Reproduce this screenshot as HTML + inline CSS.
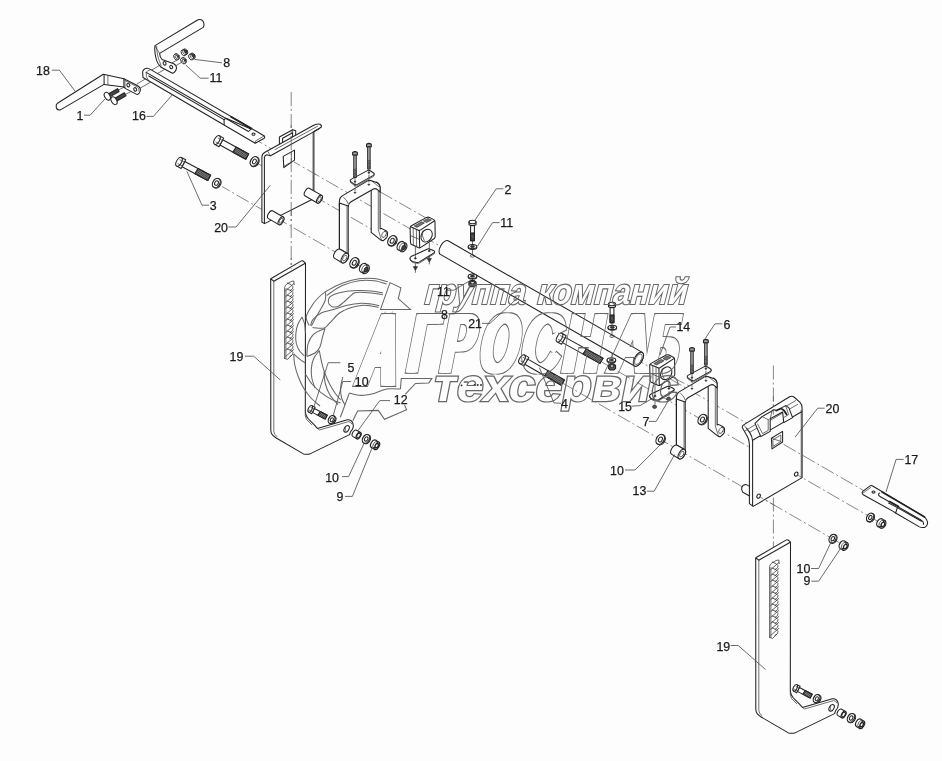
<!DOCTYPE html>
<html lang="ru"><head><meta charset="utf-8"><title>Схема</title>
<style>
html,body{margin:0;padding:0;background:#fdfdfd;}
svg{display:block;filter:grayscale(1)}
.p{fill:#fdfdfd;stroke:#222;stroke-width:1.05;stroke-linejoin:round;stroke-linecap:round}
.l{fill:none;stroke:#222;stroke-width:1.05;stroke-linejoin:round;stroke-linecap:round}
.t{fill:none;stroke:#333;stroke-width:0.7;stroke-linecap:round}
.d{fill:#333;stroke:#222;stroke-width:0.6}
.c{fill:none;stroke:#606060;stroke-width:0.75;stroke-dasharray:14 3 2 3}
.ld{fill:none;stroke:#505050;stroke-width:0.85}
.n{font-family:"Liberation Sans",Arial,sans-serif;font-size:12.4px;fill:#1a1a1a;stroke:#1a1a1a;stroke-width:0.25}
.wk{fill:#000;stroke:#000;stroke-linejoin:miter;font-family:"Liberation Sans",Arial,sans-serif}
.w{fill:none;stroke:#666;stroke-width:1;stroke-linejoin:miter;font-family:"Liberation Sans",Arial,sans-serif}
.wl{fill:none;stroke:#666;stroke-width:1.05}
</style></head><body>
<svg width="942" height="761" viewBox="0 0 942 761">
<g id="axes">
<line class="c" x1="291.2" y1="92.0" x2="291.2" y2="269.0" stroke-dashoffset="0.0"/>
<line class="c" x1="773.4" y1="365.5" x2="773.4" y2="549.0" stroke-dashoffset="0.0"/>
<line class="c" x1="222.0" y1="186.5" x2="368.0" y2="270.8" stroke-dashoffset="49.1"/>
<line class="c" x1="563.0" y1="383.3" x2="848.0" y2="547.7" stroke-dashoffset="442.8"/>
<line class="c" x1="258.0" y1="163.7" x2="405.0" y2="248.5" stroke-dashoffset="46.8"/>
<line class="c" x1="602.0" y1="362.2" x2="886.0" y2="526.0" stroke-dashoffset="443.9"/>
<line class="c" x1="258.0" y1="141.1" x2="444.0" y2="248.4" stroke-dashoffset="9.2"/>
<line class="c" x1="640.0" y1="361.5" x2="866.0" y2="491.9" stroke-dashoffset="450.3"/>
<line class="c" x1="380.0" y1="191.8" x2="428.6" y2="219.4" />
<line class="c" x1="672.0" y1="377.0" x2="691.0" y2="386.8" />
</g>
<g id="tl">
<line class="t" x1="118.3" y1="90.1" x2="128.3" y2="85.1" />
<line class="t" x1="125.2" y1="94.5" x2="135.2" y2="89.4" />
<line class="t" x1="137.0" y1="84.0" x2="146.0" y2="78.5" />
<line class="t" x1="139.5" y1="88.5" x2="150.0" y2="82.5" />
<line class="t" x1="172.0" y1="63.0" x2="177.0" y2="60.0" />
<line class="t" x1="174.5" y1="66.5" x2="183.0" y2="61.5" />
<line class="t" x1="150.0" y1="71.0" x2="162.0" y2="64.0" />
<line class="t" x1="153.0" y1="76.0" x2="169.0" y2="67.0" />
<path class="p" d="M57.5,103.2 L103.3,74.2 L123.9,78.8 L137.7,85.7 Q141.2,88 140.2,91 Q139.5,94 137.2,94.6 L125.2,88.4 L123.9,86.9 L104.1,84.4 L60.4,109.9 Q56.8,110.5 56.2,107.2 Q55.8,104.5 57.5,103.2 Z" />
<line class="l" x1="104.1" y1="75.6" x2="104.1" y2="84.4" />
<line class="t" x1="107.9" y1="76.0" x2="107.9" y2="84.6" />
<line class="l" x1="123.9" y1="78.8" x2="123.9" y2="86.9" />
<path class="t" d="M125,80.5 L125,87.6 M125,80.5 L137.2,86.8 Q139.6,88.6 139,91" />
<ellipse class="p" cx="128.3" cy="85.1" rx="1.4" ry="1.8" transform="rotate(-25 128.3 85.1)" />
<ellipse class="p" cx="135.2" cy="89.4" rx="1.4" ry="1.8" transform="rotate(-25 135.2 89.4)" />
<path class="p" d="M109.4,97.1 L119.1,91.6 L117.5,88.6 L107.8,94.1 Z" style="fill:#444"/>
<ellipse class="p" cx="107.3" cy="96.3" rx="2.6" ry="4.2" transform="rotate(-29.55368363230744 107.3 96.3)" />
<path class="p" d="M116.1,101.5 L126.0,95.8 L124.4,92.8 L114.5,98.5 Z" style="fill:#444"/>
<ellipse class="p" cx="114.0" cy="100.7" rx="2.6" ry="4.2" transform="rotate(-29.931511840507792 114.0 100.7)" />
<path class="p" d="M154.7,48.4 Q154.5,45.8 156.6,44.6 L198,19.8 Q201.5,18.6 203.2,21.5 Q204.8,25 203.2,27.4 L159.6,53.4 Q159.8,57.5 162,59.4 L173.8,63.8 Q177,65.5 176.4,68.6 Q175.5,72.5 172.4,73.2 L160.7,67 L158.2,63.8 Q155,58 154.7,48.4 Z" />
<path class="t" d="M156.6,46.5 Q157,56 159.6,61.5 L161.2,66" />
<line class="t" x1="154.8" y1="45.7" x2="159.6" y2="53.4" />
<ellipse class="p" cx="164.6" cy="63.3" rx="1.4" ry="1.8" transform="rotate(-25 164.6 63.3)" />
<ellipse class="p" cx="171.2" cy="67.0" rx="1.4" ry="1.8" transform="rotate(-25 171.2 67.0)" />
<ellipse class="p" cx="176.9" cy="56.6" rx="2.3" ry="3.3" transform="rotate(-30 176.9 56.6)" style="stroke-width:0.79"/>
<ellipse class="p" cx="176.3" cy="57.0" rx="2.3" ry="3.3" transform="rotate(-30 176.3 57.0)" style="stroke-width:0.86"/>
<ellipse class="p" cx="176.5" cy="56.9" rx="1.1" ry="1.6" transform="rotate(-30 176.5 56.9)" style="stroke-width:0.72"/>
<ellipse class="p" cx="183.9" cy="60.4" rx="2.3" ry="3.3" transform="rotate(-30 183.9 60.4)" style="stroke-width:0.79"/>
<ellipse class="p" cx="183.3" cy="60.8" rx="2.3" ry="3.3" transform="rotate(-30 183.3 60.8)" style="stroke-width:0.86"/>
<ellipse class="p" cx="183.5" cy="60.7" rx="1.1" ry="1.6" transform="rotate(-30 183.5 60.7)" style="stroke-width:0.72"/>
<ellipse class="p" cx="185.3" cy="51.8" rx="2.2" ry="3.2" transform="rotate(-30 185.3 51.8)" style="stroke-width:0.86"/>
<ellipse class="p" cx="183.6" cy="52.8" rx="2.2" ry="3.2" transform="rotate(-30 183.6 52.8)" style="stroke-width:0.86"/>
<ellipse class="t" cx="184.8" cy="52.0" rx="1.9" ry="2.8" transform="rotate(-30 184.8 52.0)" />
<ellipse class="p" cx="185.6" cy="51.6" rx="1.1" ry="1.6" transform="rotate(-30 185.6 51.6)" style="fill:#444;stroke-width:0.65"/>
<ellipse class="p" cx="192.8" cy="56.0" rx="2.2" ry="3.2" transform="rotate(-30 192.8 56.0)" style="stroke-width:0.86"/>
<ellipse class="p" cx="191.1" cy="57.0" rx="2.2" ry="3.2" transform="rotate(-30 191.1 57.0)" style="stroke-width:0.86"/>
<ellipse class="t" cx="192.3" cy="56.2" rx="1.9" ry="2.8" transform="rotate(-30 192.3 56.2)" />
<ellipse class="p" cx="193.1" cy="55.8" rx="1.1" ry="1.6" transform="rotate(-30 193.1 55.8)" style="fill:#444;stroke-width:0.65"/>
<path class="p" d="M146.6,68.2 Q143,69 142.6,72 L143,77.5 L148.6,80.8 L255.2,143.3 L264.3,138.2 Q265.3,136.5 263.9,135.7 L150.8,69.6 Q148.5,68 146.6,68.2 Z" />
<path class="l" d="M146.2,72.4 L248,131.2" />
<path class="l" d="M148.8,76 L224,119.6" />
<path class="t" d="M150.8,69.6 Q147,70.5 146.2,72.4 L146.4,76.5 L148.6,80.8" />
<path class="l" d="M224,119.6 L224.2,124.6 M224,119.6 L226,118.3 L251,129 L248.5,131.5" />
<path class="l" d="M231,116.8 L251.5,128.6" style="stroke-width:1.8"/>
<path class="t" d="M255.2,143.3 L255.4,141 L263.8,136.2" />
<ellipse class="p" cx="253.5" cy="134.2" rx="1.5" ry="1.1" transform="rotate(0 253.5 134.2)" />
</g>
<g id="b3">
<path class="p" d="M219.9,145.0 L245.8,159.2 L248.6,154.0 L222.8,139.8 Z" />
<path class="p" d="M233.1,152.3 L245.8,159.2 L248.6,154.0 L236.0,147.0 Z" style="fill:#9a9a9a"/>
<line class="t" x1="232.5" y1="152.0" x2="236.5" y2="147.3" style="stroke:#222;stroke-width:0.75"/>
<line class="t" x1="233.6" y1="152.6" x2="237.6" y2="147.9" style="stroke:#222;stroke-width:0.75"/>
<line class="t" x1="234.7" y1="153.2" x2="238.7" y2="148.5" style="stroke:#222;stroke-width:0.75"/>
<line class="t" x1="235.8" y1="153.8" x2="239.8" y2="149.1" style="stroke:#222;stroke-width:0.75"/>
<line class="t" x1="236.9" y1="154.4" x2="240.9" y2="149.7" style="stroke:#222;stroke-width:0.75"/>
<line class="t" x1="238.0" y1="155.0" x2="242.0" y2="150.3" style="stroke:#222;stroke-width:0.75"/>
<line class="t" x1="239.1" y1="155.6" x2="243.1" y2="150.9" style="stroke:#222;stroke-width:0.75"/>
<line class="t" x1="240.2" y1="156.2" x2="244.2" y2="151.5" style="stroke:#222;stroke-width:0.75"/>
<line class="t" x1="241.3" y1="156.8" x2="245.3" y2="152.1" style="stroke:#222;stroke-width:0.75"/>
<line class="t" x1="242.4" y1="157.4" x2="246.3" y2="152.7" style="stroke:#222;stroke-width:0.75"/>
<line class="t" x1="243.5" y1="158.0" x2="247.4" y2="153.3" style="stroke:#222;stroke-width:0.75"/>
<line class="t" x1="244.6" y1="158.6" x2="248.5" y2="153.9" style="stroke:#222;stroke-width:0.75"/>
<path class="p" d="M214.6,144.3 L219.0,146.7 L223.7,138.1 L219.4,135.7 Z" />
<ellipse class="p" cx="217.0" cy="140.0" rx="2.5" ry="4.9" transform="rotate(28.796225785109243 217.0 140.0)" />
<line class="t" x1="215.9" y1="141.9" x2="220.3" y2="144.3" />
<line class="t" x1="218.1" y1="138.1" x2="222.4" y2="140.5" />
<ellipse class="p" cx="255.1" cy="161.9" rx="3.6" ry="5.2" transform="rotate(30 255.1 161.9)" style="stroke-width:1.10"/>
<ellipse class="p" cx="254.2" cy="161.4" rx="3.6" ry="5.2" transform="rotate(30 254.2 161.4)" style="stroke-width:1.20"/>
<ellipse class="p" cx="254.4" cy="161.5" rx="1.7" ry="2.5" transform="rotate(30 254.4 161.5)" style="stroke-width:1.00"/>
<path class="p" d="M182.0,166.8 L207.8,180.5 L210.6,175.3 L184.8,161.5 Z" />
<path class="p" d="M195.1,173.8 L207.8,180.5 L210.6,175.3 L197.9,168.5 Z" style="fill:#9a9a9a"/>
<line class="t" x1="194.6" y1="173.5" x2="198.5" y2="168.8" style="stroke:#222;stroke-width:0.75"/>
<line class="t" x1="195.7" y1="174.1" x2="199.6" y2="169.4" style="stroke:#222;stroke-width:0.75"/>
<line class="t" x1="196.8" y1="174.7" x2="200.7" y2="169.9" style="stroke:#222;stroke-width:0.75"/>
<line class="t" x1="197.9" y1="175.3" x2="201.8" y2="170.5" style="stroke:#222;stroke-width:0.75"/>
<line class="t" x1="199.0" y1="175.9" x2="202.9" y2="171.1" style="stroke:#222;stroke-width:0.75"/>
<line class="t" x1="200.1" y1="176.4" x2="204.0" y2="171.7" style="stroke:#222;stroke-width:0.75"/>
<line class="t" x1="201.2" y1="177.0" x2="205.1" y2="172.3" style="stroke:#222;stroke-width:0.75"/>
<line class="t" x1="202.3" y1="177.6" x2="206.2" y2="172.9" style="stroke:#222;stroke-width:0.75"/>
<line class="t" x1="203.4" y1="178.2" x2="207.3" y2="173.5" style="stroke:#222;stroke-width:0.75"/>
<line class="t" x1="204.5" y1="178.8" x2="208.4" y2="174.1" style="stroke:#222;stroke-width:0.75"/>
<line class="t" x1="205.6" y1="179.4" x2="209.5" y2="174.7" style="stroke:#222;stroke-width:0.75"/>
<line class="t" x1="206.7" y1="180.0" x2="210.6" y2="175.2" style="stroke:#222;stroke-width:0.75"/>
<path class="p" d="M176.7,166.1 L181.1,168.5 L185.7,159.8 L181.3,157.5 Z" />
<ellipse class="p" cx="179.0" cy="161.8" rx="2.5" ry="4.9" transform="rotate(28.06263891609551 179.0 161.8)" />
<line class="t" x1="178.0" y1="163.7" x2="182.4" y2="166.1" />
<line class="t" x1="180.0" y1="159.9" x2="184.4" y2="162.2" />
<ellipse class="p" cx="217.2" cy="183.5" rx="3.5" ry="5.0" transform="rotate(30 217.2 183.5)" style="stroke-width:1.10"/>
<ellipse class="p" cx="216.3" cy="183.0" rx="3.5" ry="5.0" transform="rotate(30 216.3 183.0)" style="stroke-width:1.20"/>
<ellipse class="p" cx="216.5" cy="183.1" rx="1.7" ry="2.4" transform="rotate(30 216.5 183.1)" style="stroke-width:1.00"/>
</g>
<g id="p20l">
<path class="p" d="M279.4,146 L279.4,137 L292.6,129.8 L295.7,130.7 L295.7,137.5 L292.6,139 L292.6,132.8 L282.6,138.3 L282.6,144.8 Z" />
<line class="t" x1="292.6" y1="129.8" x2="292.6" y2="132.8" />
<path class="p" d="M261.9,157 Q261.9,154 265,152.3 L312.7,125.7 Q317,123.3 320,124.3 Q322,125.5 321.2,127.2 L313.9,131.5 L313.9,198.5 L264.5,223.6 L261.9,222 Z" />
<line class="l" x1="264.4" y1="157.5" x2="264.4" y2="223.4" />
<path class="l" d="M264.4,157.5 Q264.6,155.6 266.5,154.8 L270.5,155.8 L319.5,128.6" />
<path class="t" d="M268,151.6 L270.5,155.8 M275,149.6 L317.7,126.2" />
<line class="t" x1="313.0" y1="132.0" x2="313.0" y2="198.8" />
<path class="p" d="M283.2,156.4 L294.5,150.1 L294.5,160.1 L283.8,167.6 Z" />
<path class="t" d="M291.4,152 L291.4,162 L284.3,166" />
<path class="p" d="M304.8,195.8 L317.3,203.0 A2.2,4.4 29.9 0 0 321.7,195.4 L309.2,188.2 A2.2,4.4 29.9 0 0 304.8,195.8 Z"/>
<ellipse class="p" cx="319.5" cy="199.2" rx="2.2" ry="4.4" transform="rotate(29.941942530272932 319.5 199.2)" />
<path class="p" d="M268.1,218.4 L278.8,224.6 A2.2,4.4 30.1 0 0 283.2,217.0 L272.5,210.8 A2.2,4.4 30.1 0 0 268.1,218.4 Z"/>
<ellipse class="p" cx="281.0" cy="220.8" rx="2.2" ry="4.4" transform="rotate(30.089686238776768 281.0 220.8)" />
<ellipse class="t" cx="319.5" cy="199.2" rx="1.4" ry="2.8" transform="rotate(30 319.5 199.2)" />
<ellipse class="t" cx="281.0" cy="220.8" rx="1.4" ry="2.8" transform="rotate(30 281.0 220.8)" />
</g>
<g id="b13l">
<g transform="translate(0,0)">
<path class="p" d="M371.2,190 L371.2,232.4 L381.2,240.3 Q382.6,241 383.9,240.2 L386.3,238 Q387.5,236.8 387.5,235 L387.5,232.8 Q387.3,231.4 386,230.7 L381.4,228.4 L380.1,229 L380.1,188 Q379.8,184 376.5,182 Z" />
<path class="t" d="M378.3,186 L378.3,229.8 L380.3,236.4 L381.6,240.2" />
<ellipse class="t" cx="384.1" cy="234.4" rx="2.0" ry="3.3" transform="rotate(30 384.1 234.4)" />
<path class="p" d="M342.6,195.6 L367.6,180.9 Q369.4,180 371.4,180.7 L377.2,182.8 Q379.9,184.2 380.1,187.6 L380.1,192 L377.4,189.6 Q375.6,188 373.4,189 L351,201.8 Q348.4,203.4 348.2,206.5 L339.4,206.5 L339.4,200.6 Q339.6,197.4 342.6,195.6 Z" />
<path class="t" d="M343.6,197.4 Q346.8,199.6 348.2,203.6 M371.4,180.7 L378.6,186.4" />
<path class="p" d="M339.4,203 L339.4,249 L348.2,254 L348.2,206 Z" />
<line class="t" x1="347.0" y1="206.0" x2="347.0" y2="253.3" />
<line class="l" x1="339.4" y1="203.0" x2="339.4" y2="250.0" />
<path class="p" d="M334.7,258.4 L342.1,262.7 A2.9,5.3 30.2 0 0 347.5,253.5 L340.1,249.2 A2.9,5.3 30.2 0 0 334.7,258.4 Z"/>
<ellipse class="p" cx="344.8" cy="258.1" rx="2.9" ry="5.3" transform="rotate(30.160060838087038 344.8 258.1)" />
<ellipse class="t" cx="344.8" cy="258.1" rx="1.7" ry="3.2" transform="rotate(30 344.8 258.1)" />
<ellipse class="d" cx="355.0" cy="192.6" rx="0.9" ry="0.7" transform="rotate(0 355.0 192.6)" />
<ellipse class="d" cx="368.9" cy="184.6" rx="0.9" ry="0.7" transform="rotate(0 368.9 184.6)" />
<path class="p" d="M351,179.4 L367.4,170.6 Q369,170 370.2,170.8 L373.6,173 Q375,174.3 373.4,175.4 L357.4,184.4 Q355.8,185.2 354.4,184.3 L350.8,181.6 Q349.6,180.4 351,179.4 Z" />
<path class="t" d="M350.4,181.2 L350.4,182.4 L354.4,185.5 Q355.8,186.3 357.4,185.6 L373.6,176.4 L374.2,174.6" />
<ellipse class="d" cx="355.0" cy="181.7" rx="0.9" ry="0.7" transform="rotate(0 355.0 181.7)" />
<ellipse class="d" cx="368.9" cy="172.7" rx="0.9" ry="0.7" transform="rotate(0 368.9 172.7)" />
<path class="p" d="M353.8,155.0 L356.2,155.0 L356.2,177.5 L353.8,177.5 Z" style="fill:#bbb"/>
<line class="t" x1="353.8" y1="176.5" x2="356.2" y2="175.9" />
<line class="t" x1="353.8" y1="175.1" x2="356.2" y2="174.5" />
<line class="t" x1="353.8" y1="173.7" x2="356.2" y2="173.1" />
<line class="t" x1="353.8" y1="172.3" x2="356.2" y2="171.7" />
<line class="t" x1="353.8" y1="170.9" x2="356.2" y2="170.3" />
<line class="t" x1="353.8" y1="169.5" x2="356.2" y2="168.9" />
<path class="p" d="M352.6,155 L352.6,152.4 Q355,150.8 357.4,152.4 L357.4,155 Z" style="fill:#999"/>
<line class="t" x1="355.0" y1="177.5" x2="355.0" y2="180.7" />
<line class="t" x1="355.0" y1="183.5" x2="355.0" y2="190.5" stroke-dasharray="3 2"/>
<path class="p" d="M367.7,146.8 L370.1,146.8 L370.1,169.0 L367.7,169.0 Z" style="fill:#bbb"/>
<line class="t" x1="367.7" y1="168.0" x2="370.1" y2="167.4" />
<line class="t" x1="367.7" y1="166.6" x2="370.1" y2="166.0" />
<line class="t" x1="367.7" y1="165.2" x2="370.1" y2="164.6" />
<line class="t" x1="367.7" y1="163.8" x2="370.1" y2="163.2" />
<line class="t" x1="367.7" y1="162.4" x2="370.1" y2="161.8" />
<line class="t" x1="367.7" y1="161.0" x2="370.1" y2="160.4" />
<path class="p" d="M366.5,146.8 L366.5,144.20000000000002 Q368.9,142.60000000000002 371.29999999999995,144.20000000000002 L371.29999999999995,146.8 Z" style="fill:#999"/>
<line class="t" x1="368.9" y1="169.0" x2="368.9" y2="172.2" />
<line class="t" x1="368.9" y1="175.0" x2="368.9" y2="182.0" stroke-dasharray="3 2"/>
</g>
<ellipse class="p" cx="355.0" cy="263.2" rx="3.8" ry="5.4" transform="rotate(30 355.0 263.2)" style="stroke-width:1.10"/>
<ellipse class="p" cx="354.1" cy="262.7" rx="3.8" ry="5.4" transform="rotate(30 354.1 262.7)" style="stroke-width:1.20"/>
<ellipse class="p" cx="354.3" cy="262.8" rx="1.8" ry="2.6" transform="rotate(30 354.3 262.8)" style="stroke-width:1.00"/>
<ellipse class="p" cx="365.6" cy="269.2" rx="3.3" ry="4.8" transform="rotate(30 365.6 269.2)" style="stroke-width:1.20"/>
<ellipse class="p" cx="363.2" cy="267.8" rx="3.3" ry="4.8" transform="rotate(30 363.2 267.8)" style="stroke-width:1.20"/>
<ellipse class="t" cx="365.0" cy="268.8" rx="2.8" ry="4.1" transform="rotate(30 365.0 268.8)" />
<ellipse class="p" cx="366.0" cy="269.4" rx="1.6" ry="2.4" transform="rotate(30 366.0 269.4)" style="fill:#444;stroke-width:0.90"/>
<ellipse class="p" cx="392.9" cy="241.2" rx="3.8" ry="5.4" transform="rotate(30 392.9 241.2)" style="stroke-width:1.10"/>
<ellipse class="p" cx="392.0" cy="240.7" rx="3.8" ry="5.4" transform="rotate(30 392.0 240.7)" style="stroke-width:1.20"/>
<ellipse class="p" cx="392.2" cy="240.8" rx="1.8" ry="2.6" transform="rotate(30 392.2 240.8)" style="stroke-width:1.00"/>
<ellipse class="p" cx="403.2" cy="247.3" rx="3.3" ry="4.8" transform="rotate(30 403.2 247.3)" style="stroke-width:1.20"/>
<ellipse class="p" cx="400.8" cy="245.9" rx="3.3" ry="4.8" transform="rotate(30 400.8 245.9)" style="stroke-width:1.20"/>
<ellipse class="t" cx="402.6" cy="246.9" rx="2.8" ry="4.1" transform="rotate(30 402.6 246.9)" />
<ellipse class="p" cx="403.6" cy="247.5" rx="1.6" ry="2.4" transform="rotate(30 403.6 247.5)" style="fill:#444;stroke-width:0.90"/>
</g>
<g id="c14l">
<g transform="translate(0,0)">
<path class="p" d="M411,256.6 L427.6,249 Q429,248.5 430.4,249.2 L434,250.8 Q435.2,251.8 434,252.9 L419.4,261.9 Q418,262.7 416.4,262.4 L412.4,261.4 Q409.6,260.2 410,258 Q410.2,257 411,256.6 Z" />
<path class="t" d="M410,258.6 Q410.2,260.8 412.4,262.4 L416.4,263.4 Q418,263.6 419.4,263 L434.2,253.9 L434.6,252" />
<line class="t" x1="415.4" y1="247.0" x2="415.4" y2="258.4" />
<line class="t" x1="415.4" y1="263.8" x2="415.4" y2="266.6" />
<line class="t" x1="429.3" y1="243.0" x2="429.3" y2="251.0" />
<line class="t" x1="429.3" y1="256.2" x2="429.3" y2="258.4" />
<ellipse class="d" cx="415.4" cy="258.4" rx="1.0" ry="0.7" transform="rotate(0 415.4 258.4)" />
<ellipse class="d" cx="429.3" cy="251.0" rx="1.0" ry="0.7" transform="rotate(0 429.3 251.0)" />
<path class="d" d="M413.3,266.6 L417.5,266.6 L415.4,270.4 Z" />
<path class="d" d="M427.2,258.4 L431.4,258.4 L429.3,262.2 Z" />
<line class="t" x1="415.4" y1="270.4" x2="415.4" y2="272.4" />
<line class="t" x1="429.3" y1="262.2" x2="429.3" y2="264.0" />
<path class="p" d="M410.1,227.8 Q410.2,226.4 411.4,225.8 L426.6,217.4 Q428,216.8 429.4,217.4 L433.8,219.6 Q435,220.4 435,222 L435.2,236.6 Q435.2,238 434,238.8 L420.8,247.4 Q419.6,248.2 418.2,247.6 L411.8,244.6 Q410.6,244 410.5,242.6 Z" />
<path class="l" d="M410.6,226.8 L418.4,230.2 Q419.3,230.6 420.3,230.1 L434.6,220.8" />
<line class="l" x1="419.3" y1="230.6" x2="419.7" y2="247.8" />
<line class="t" x1="410.5" y1="235.6" x2="419.4" y2="239.4" />
<line class="t" x1="413.2" y1="228.6" x2="413.4" y2="245.2" />
<line class="t" x1="416.4" y1="230.0" x2="416.6" y2="246.6" />
<path class="d" d="M414.2,226 L421.6,221.8 L424.4,223 L417,227.4 Z" style="fill:#777"/>
<path class="d" d="M423.4,220.8 L428,218.4 L431.4,220 L426.6,222.6 Z" style="fill:#777"/>
<ellipse class="p" cx="426.6" cy="235.6" rx="5.2" ry="6.8" transform="rotate(32 426.6 235.6)" />
<path class="t" d="M422.6,231.2 Q421.4,236 424.2,240.6" />
</g>
</g>
<g id="tube">
<path class="p" d="M440.3,254.4 L634.5,366.0 A3.9,7.8 29.9 0 0 642.3,352.4 L448.1,240.8 A3.9,7.8 29.9 0 0 440.3,254.4 Z"/>
<ellipse class="p" cx="638.4" cy="359.2" rx="3.9" ry="7.8" transform="rotate(29.884487527395073 638.4 359.2)" />
<ellipse class="t" cx="638.4" cy="359.2" rx="2.9" ry="5.8" transform="rotate(30 638.4 359.2)" />
<ellipse class="t" cx="472.5" cy="255.9" rx="2.2" ry="1.3" transform="rotate(0 472.5 255.9)" />
<ellipse class="t" cx="612.0" cy="336.2" rx="2.2" ry="1.3" transform="rotate(0 612.0 336.2)" />
</g>
<g id="b2">
<line class="t" x1="472.5" y1="241.0" x2="472.5" y2="255.0" />
<line class="t" x1="472.5" y1="273.6" x2="472.5" y2="284.0" />
<path class="p" d="M470.6,224.8 L474.4,224.8 L474.4,240.6 L470.6,240.6 Z" />
<path class="p" d="M470.6,233.1 L474.4,233.1 L474.4,240.6 L470.6,240.6 Z" style="fill:#8a8a8a"/>
<line class="t" x1="470.6" y1="240.0" x2="474.4" y2="239.3" style="stroke-width:0.8;stroke:#222"/>
<line class="t" x1="470.6" y1="238.8" x2="474.4" y2="238.0" style="stroke-width:0.8;stroke:#222"/>
<line class="t" x1="470.6" y1="237.5" x2="474.4" y2="236.8" style="stroke-width:0.8;stroke:#222"/>
<line class="t" x1="470.6" y1="236.2" x2="474.4" y2="235.5" style="stroke-width:0.8;stroke:#222"/>
<line class="t" x1="470.6" y1="235.0" x2="474.4" y2="234.3" style="stroke-width:0.8;stroke:#222"/>
<line class="t" x1="470.6" y1="233.8" x2="474.4" y2="233.0" style="stroke-width:0.8;stroke:#222"/>
<path class="p" d="M469.0,222.0 L469.0,224.8 Q472.5,226.4 476.0,224.8 L476.0,222.0 Z" />
<ellipse class="p" cx="472.5" cy="222.0" rx="3.5" ry="1.7" transform="rotate(0 472.5 222.0)" />
<ellipse class="p" cx="472.5" cy="247.3" rx="4.3" ry="2.2" transform="rotate(0 472.5 247.3)" />
<ellipse class="p" cx="472.5" cy="246.6" rx="4.3" ry="2.2" transform="rotate(0 472.5 246.6)" />
<ellipse class="d" cx="472.5" cy="246.6" rx="2.1" ry="1.1" transform="rotate(0 472.5 246.6)" />
<ellipse class="p" cx="472.5" cy="276.9" rx="4.3" ry="2.2" transform="rotate(0 472.5 276.9)" />
<ellipse class="p" cx="472.5" cy="276.2" rx="4.3" ry="2.2" transform="rotate(0 472.5 276.2)" />
<ellipse class="d" cx="472.5" cy="276.2" rx="2.1" ry="1.1" transform="rotate(0 472.5 276.2)" />
<path class="p" d="M468.9,282.2 L468.9,285.2 L470.7,286.8 L474.3,286.8 L476.1,285.2 L476.1,282.2 L474.3,280.59999999999997 L470.7,280.59999999999997 Z" style="fill:#555"/>
<ellipse class="p" cx="472.5" cy="282.8" rx="2.0" ry="1.3" transform="rotate(0 472.5 282.8)" />
<line class="t" x1="612.0" y1="322.0" x2="612.0" y2="336.0" />
<line class="t" x1="612.0" y1="353.8" x2="612.0" y2="366.0" />
<path class="p" d="M610.1,306.8 L613.9,306.8 L613.9,322.6 L610.1,322.6 Z" />
<path class="p" d="M610.1,315.1 L613.9,315.1 L613.9,322.6 L610.1,322.6 Z" style="fill:#8a8a8a"/>
<line class="t" x1="610.1" y1="322.0" x2="613.9" y2="321.3" style="stroke-width:0.8;stroke:#222"/>
<line class="t" x1="610.1" y1="320.8" x2="613.9" y2="320.1" style="stroke-width:0.8;stroke:#222"/>
<line class="t" x1="610.1" y1="319.5" x2="613.9" y2="318.8" style="stroke-width:0.8;stroke:#222"/>
<line class="t" x1="610.1" y1="318.2" x2="613.9" y2="317.6" style="stroke-width:0.8;stroke:#222"/>
<line class="t" x1="610.1" y1="317.0" x2="613.9" y2="316.3" style="stroke-width:0.8;stroke:#222"/>
<line class="t" x1="610.1" y1="315.8" x2="613.9" y2="315.1" style="stroke-width:0.8;stroke:#222"/>
<path class="p" d="M608.5,304.0 L608.5,306.79999999999995 Q612,308.4 615.5,306.79999999999995 L615.5,304.0 Z" />
<ellipse class="p" cx="612.0" cy="304.0" rx="3.5" ry="1.7" transform="rotate(0 612.0 304.0)" />
<ellipse class="p" cx="612.3" cy="328.1" rx="4.3" ry="2.2" transform="rotate(0 612.3 328.1)" />
<ellipse class="p" cx="612.3" cy="327.4" rx="4.3" ry="2.2" transform="rotate(0 612.3 327.4)" />
<ellipse class="d" cx="612.3" cy="327.4" rx="2.1" ry="1.1" transform="rotate(0 612.3 327.4)" />
<ellipse class="p" cx="611.4" cy="360.7" rx="4.3" ry="2.2" transform="rotate(0 611.4 360.7)" />
<ellipse class="p" cx="611.4" cy="360.0" rx="4.3" ry="2.2" transform="rotate(0 611.4 360.0)" />
<ellipse class="d" cx="611.4" cy="360.0" rx="2.1" ry="1.1" transform="rotate(0 611.4 360.0)" />
<path class="p" d="M608.4,365.4 L608.4,368.4 L610.2,370.0 L613.8,370.0 L615.6,368.4 L615.6,365.4 L613.8,363.79999999999995 L610.2,363.79999999999995 Z" style="fill:#555"/>
<ellipse class="p" cx="612.0" cy="366.0" rx="2.0" ry="1.3" transform="rotate(0 612.0 366.0)" />
</g>
<g id="b4">
<path class="p" d="M562.4,342.6 L599.9,363.4 L602.9,358.2 L565.3,337.4 Z" />
<path class="p" d="M583.2,354.1 L599.9,363.4 L602.9,358.2 L586.1,348.9 Z" style="fill:#9a9a9a"/>
<line class="t" x1="582.7" y1="353.9" x2="586.6" y2="349.2" style="stroke:#222;stroke-width:0.75"/>
<line class="t" x1="583.8" y1="354.5" x2="587.7" y2="349.8" style="stroke:#222;stroke-width:0.75"/>
<line class="t" x1="584.8" y1="355.1" x2="588.8" y2="350.4" style="stroke:#222;stroke-width:0.75"/>
<line class="t" x1="585.9" y1="355.7" x2="589.9" y2="351.0" style="stroke:#222;stroke-width:0.75"/>
<line class="t" x1="587.0" y1="356.3" x2="591.0" y2="351.6" style="stroke:#222;stroke-width:0.75"/>
<line class="t" x1="588.1" y1="356.9" x2="592.1" y2="352.2" style="stroke:#222;stroke-width:0.75"/>
<line class="t" x1="589.2" y1="357.5" x2="593.2" y2="352.8" style="stroke:#222;stroke-width:0.75"/>
<line class="t" x1="590.3" y1="358.1" x2="594.3" y2="353.4" style="stroke:#222;stroke-width:0.75"/>
<line class="t" x1="591.4" y1="358.7" x2="595.4" y2="354.0" style="stroke:#222;stroke-width:0.75"/>
<line class="t" x1="592.5" y1="359.3" x2="596.5" y2="354.6" style="stroke:#222;stroke-width:0.75"/>
<line class="t" x1="593.6" y1="359.9" x2="597.6" y2="355.2" style="stroke:#222;stroke-width:0.75"/>
<line class="t" x1="594.7" y1="360.5" x2="598.6" y2="355.8" style="stroke:#222;stroke-width:0.75"/>
<line class="t" x1="595.8" y1="361.1" x2="599.7" y2="356.5" style="stroke:#222;stroke-width:0.75"/>
<line class="t" x1="596.9" y1="361.7" x2="600.8" y2="357.1" style="stroke:#222;stroke-width:0.75"/>
<line class="t" x1="598.0" y1="362.3" x2="601.9" y2="357.7" style="stroke:#222;stroke-width:0.75"/>
<line class="t" x1="599.1" y1="362.9" x2="603.0" y2="358.3" style="stroke:#222;stroke-width:0.75"/>
<path class="p" d="M557.1,341.9 L561.5,344.3 L566.2,335.7 L561.9,333.3 Z" />
<ellipse class="p" cx="559.5" cy="337.6" rx="2.5" ry="4.9" transform="rotate(28.97326761820621 559.5 337.6)" />
<line class="t" x1="558.4" y1="339.5" x2="562.8" y2="342.0" />
<line class="t" x1="560.6" y1="335.7" x2="564.9" y2="338.1" />
<path class="p" d="M524.8,364.3 L561.3,385.2 L564.3,380.0 L527.8,359.1 Z" />
<path class="p" d="M545.0,375.8 L561.3,385.2 L564.3,380.0 L548.0,370.6 Z" style="fill:#9a9a9a"/>
<line class="t" x1="544.5" y1="375.5" x2="548.5" y2="370.9" style="stroke:#222;stroke-width:0.75"/>
<line class="t" x1="545.6" y1="376.2" x2="549.6" y2="371.6" style="stroke:#222;stroke-width:0.75"/>
<line class="t" x1="546.6" y1="376.8" x2="550.7" y2="372.2" style="stroke:#222;stroke-width:0.75"/>
<line class="t" x1="547.7" y1="377.4" x2="551.7" y2="372.8" style="stroke:#222;stroke-width:0.75"/>
<line class="t" x1="548.8" y1="378.0" x2="552.8" y2="373.4" style="stroke:#222;stroke-width:0.75"/>
<line class="t" x1="549.9" y1="378.7" x2="553.9" y2="374.0" style="stroke:#222;stroke-width:0.75"/>
<line class="t" x1="551.0" y1="379.3" x2="555.0" y2="374.7" style="stroke:#222;stroke-width:0.75"/>
<line class="t" x1="552.1" y1="379.9" x2="556.1" y2="375.3" style="stroke:#222;stroke-width:0.75"/>
<line class="t" x1="553.1" y1="380.5" x2="557.2" y2="375.9" style="stroke:#222;stroke-width:0.75"/>
<line class="t" x1="554.2" y1="381.1" x2="558.3" y2="376.5" style="stroke:#222;stroke-width:0.75"/>
<line class="t" x1="555.3" y1="381.8" x2="559.3" y2="377.2" style="stroke:#222;stroke-width:0.75"/>
<line class="t" x1="556.4" y1="382.4" x2="560.4" y2="377.8" style="stroke:#222;stroke-width:0.75"/>
<line class="t" x1="557.5" y1="383.0" x2="561.5" y2="378.4" style="stroke:#222;stroke-width:0.75"/>
<line class="t" x1="558.6" y1="383.6" x2="562.6" y2="379.0" style="stroke:#222;stroke-width:0.75"/>
<line class="t" x1="559.6" y1="384.3" x2="563.7" y2="379.6" style="stroke:#222;stroke-width:0.75"/>
<line class="t" x1="560.7" y1="384.9" x2="564.8" y2="380.3" style="stroke:#222;stroke-width:0.75"/>
<path class="p" d="M519.6,363.5 L523.9,365.9 L528.8,357.4 L524.4,354.9 Z" />
<ellipse class="p" cx="522.0" cy="359.2" rx="2.5" ry="4.9" transform="rotate(29.83553910026162 522.0 359.2)" />
<line class="t" x1="520.9" y1="361.1" x2="525.2" y2="363.6" />
<line class="t" x1="523.1" y1="357.3" x2="527.4" y2="359.8" />
</g>
<g id="c14r">
<g transform="translate(239.6,137.6)">
<path class="p" d="M411,256.6 L427.6,249 Q429,248.5 430.4,249.2 L434,250.8 Q435.2,251.8 434,252.9 L419.4,261.9 Q418,262.7 416.4,262.4 L412.4,261.4 Q409.6,260.2 410,258 Q410.2,257 411,256.6 Z" />
<path class="t" d="M410,258.6 Q410.2,260.8 412.4,262.4 L416.4,263.4 Q418,263.6 419.4,263 L434.2,253.9 L434.6,252" />
<line class="t" x1="415.4" y1="247.0" x2="415.4" y2="258.4" />
<line class="t" x1="415.4" y1="263.8" x2="415.4" y2="266.6" />
<line class="t" x1="429.3" y1="243.0" x2="429.3" y2="251.0" />
<line class="t" x1="429.3" y1="256.2" x2="429.3" y2="258.4" />
<ellipse class="d" cx="415.4" cy="258.4" rx="1.0" ry="0.7" transform="rotate(0 415.4 258.4)" />
<ellipse class="d" cx="429.3" cy="251.0" rx="1.0" ry="0.7" transform="rotate(0 429.3 251.0)" />
<ellipse class="d" cx="415.0" cy="269.2" rx="2.1" ry="1.7" transform="rotate(0 415.0 269.2)" style="fill:#555"/>
<ellipse class="d" cx="429.0" cy="261.2" rx="2.1" ry="1.7" transform="rotate(0 429.0 261.2)" style="fill:#555"/>
<path class="p" d="M410.1,227.8 Q410.2,226.4 411.4,225.8 L426.6,217.4 Q428,216.8 429.4,217.4 L433.8,219.6 Q435,220.4 435,222 L435.2,236.6 Q435.2,238 434,238.8 L420.8,247.4 Q419.6,248.2 418.2,247.6 L411.8,244.6 Q410.6,244 410.5,242.6 Z" />
<path class="l" d="M410.6,226.8 L418.4,230.2 Q419.3,230.6 420.3,230.1 L434.6,220.8" />
<line class="l" x1="419.3" y1="230.6" x2="419.7" y2="247.8" />
<line class="t" x1="410.5" y1="235.6" x2="419.4" y2="239.4" />
<line class="t" x1="413.2" y1="228.6" x2="413.4" y2="245.2" />
<line class="t" x1="416.4" y1="230.0" x2="416.6" y2="246.6" />
<path class="d" d="M414.2,226 L421.6,221.8 L424.4,223 L417,227.4 Z" style="fill:#777"/>
<path class="d" d="M423.4,220.8 L428,218.4 L431.4,220 L426.6,222.6 Z" style="fill:#777"/>
<ellipse class="p" cx="426.6" cy="235.6" rx="5.2" ry="6.8" transform="rotate(32 426.6 235.6)" />
<path class="t" d="M422.6,231.2 Q421.4,236 424.2,240.6" />
</g>
</g>
<g id="b13r">
<ellipse class="p" cx="661.1" cy="439.9" rx="3.8" ry="5.4" transform="rotate(30 661.1 439.9)" style="stroke-width:1.10"/>
<ellipse class="p" cx="660.2" cy="439.4" rx="3.8" ry="5.4" transform="rotate(30 660.2 439.4)" style="stroke-width:1.20"/>
<ellipse class="p" cx="660.4" cy="439.5" rx="1.8" ry="2.6" transform="rotate(30 660.4 439.5)" style="stroke-width:1.00"/>
<ellipse class="p" cx="703.1" cy="419.9" rx="3.8" ry="5.4" transform="rotate(30 703.1 419.9)" style="stroke-width:1.10"/>
<ellipse class="p" cx="702.2" cy="419.4" rx="3.8" ry="5.4" transform="rotate(30 702.2 419.4)" style="stroke-width:1.20"/>
<ellipse class="p" cx="702.4" cy="419.5" rx="1.8" ry="2.6" transform="rotate(30 702.4 419.5)" style="stroke-width:1.00"/>
<g transform="translate(337,196)">
<path class="p" d="M371.2,190 L371.2,232.4 L381.2,240.3 Q382.6,241 383.9,240.2 L386.3,238 Q387.5,236.8 387.5,235 L387.5,232.8 Q387.3,231.4 386,230.7 L381.4,228.4 L380.1,229 L380.1,188 Q379.8,184 376.5,182 Z" />
<path class="t" d="M378.3,186 L378.3,229.8 L380.3,236.4 L381.6,240.2" />
<ellipse class="t" cx="384.1" cy="234.4" rx="2.0" ry="3.3" transform="rotate(30 384.1 234.4)" />
<path class="p" d="M342.6,195.6 L367.6,180.9 Q369.4,180 371.4,180.7 L377.2,182.8 Q379.9,184.2 380.1,187.6 L380.1,192 L377.4,189.6 Q375.6,188 373.4,189 L351,201.8 Q348.4,203.4 348.2,206.5 L339.4,206.5 L339.4,200.6 Q339.6,197.4 342.6,195.6 Z" />
<path class="t" d="M343.6,197.4 Q346.8,199.6 348.2,203.6 M371.4,180.7 L378.6,186.4" />
<path class="p" d="M339.4,203 L339.4,249 L348.2,254 L348.2,206 Z" />
<line class="t" x1="347.0" y1="206.0" x2="347.0" y2="253.3" />
<line class="l" x1="339.4" y1="203.0" x2="339.4" y2="250.0" />
<path class="p" d="M334.7,258.4 L342.1,262.7 A2.9,5.3 30.2 0 0 347.5,253.5 L340.1,249.2 A2.9,5.3 30.2 0 0 334.7,258.4 Z"/>
<ellipse class="p" cx="344.8" cy="258.1" rx="2.9" ry="5.3" transform="rotate(30.160060838087038 344.8 258.1)" />
<ellipse class="t" cx="344.8" cy="258.1" rx="1.7" ry="3.2" transform="rotate(30 344.8 258.1)" />
<ellipse class="d" cx="355.0" cy="192.6" rx="0.9" ry="0.7" transform="rotate(0 355.0 192.6)" />
<ellipse class="d" cx="368.9" cy="184.6" rx="0.9" ry="0.7" transform="rotate(0 368.9 184.6)" />
<path class="p" d="M351,179.4 L367.4,170.6 Q369,170 370.2,170.8 L373.6,173 Q375,174.3 373.4,175.4 L357.4,184.4 Q355.8,185.2 354.4,184.3 L350.8,181.6 Q349.6,180.4 351,179.4 Z" />
<path class="t" d="M350.4,181.2 L350.4,182.4 L354.4,185.5 Q355.8,186.3 357.4,185.6 L373.6,176.4 L374.2,174.6" />
<ellipse class="d" cx="355.0" cy="181.7" rx="0.9" ry="0.7" transform="rotate(0 355.0 181.7)" />
<ellipse class="d" cx="368.9" cy="172.7" rx="0.9" ry="0.7" transform="rotate(0 368.9 172.7)" />
<path class="p" d="M353.8,155.0 L356.2,155.0 L356.2,177.5 L353.8,177.5 Z" style="fill:#bbb"/>
<line class="t" x1="353.8" y1="176.5" x2="356.2" y2="175.9" />
<line class="t" x1="353.8" y1="175.1" x2="356.2" y2="174.5" />
<line class="t" x1="353.8" y1="173.7" x2="356.2" y2="173.1" />
<line class="t" x1="353.8" y1="172.3" x2="356.2" y2="171.7" />
<line class="t" x1="353.8" y1="170.9" x2="356.2" y2="170.3" />
<line class="t" x1="353.8" y1="169.5" x2="356.2" y2="168.9" />
<path class="p" d="M352.6,155 L352.6,152.4 Q355,150.8 357.4,152.4 L357.4,155 Z" style="fill:#999"/>
<line class="t" x1="355.0" y1="177.5" x2="355.0" y2="180.7" />
<line class="t" x1="355.0" y1="183.5" x2="355.0" y2="190.5" stroke-dasharray="3 2"/>
<path class="p" d="M367.7,146.8 L370.1,146.8 L370.1,169.0 L367.7,169.0 Z" style="fill:#bbb"/>
<line class="t" x1="367.7" y1="168.0" x2="370.1" y2="167.4" />
<line class="t" x1="367.7" y1="166.6" x2="370.1" y2="166.0" />
<line class="t" x1="367.7" y1="165.2" x2="370.1" y2="164.6" />
<line class="t" x1="367.7" y1="163.8" x2="370.1" y2="163.2" />
<line class="t" x1="367.7" y1="162.4" x2="370.1" y2="161.8" />
<line class="t" x1="367.7" y1="161.0" x2="370.1" y2="160.4" />
<path class="p" d="M366.5,146.8 L366.5,144.20000000000002 Q368.9,142.60000000000002 371.29999999999995,144.20000000000002 L371.29999999999995,146.8 Z" style="fill:#999"/>
<line class="t" x1="368.9" y1="169.0" x2="368.9" y2="172.2" />
<line class="t" x1="368.9" y1="175.0" x2="368.9" y2="182.0" stroke-dasharray="3 2"/>
</g>
</g>
<g id="p19l">
<g transform="translate(0,0)">
<path class="p" d="M312.4,412.4 L325.2,419.1 L327.2,415.3 L314.4,408.5 Z" />
<path class="p" d="M318.0,415.4 L325.2,419.1 L327.2,415.3 L320.0,411.5 Z" style="fill:#9a9a9a"/>
<line class="t" x1="317.4" y1="415.1" x2="320.6" y2="411.8" style="stroke:#222;stroke-width:0.75"/>
<line class="t" x1="318.6" y1="415.7" x2="321.7" y2="412.3" style="stroke:#222;stroke-width:0.75"/>
<line class="t" x1="319.7" y1="416.3" x2="322.8" y2="412.9" style="stroke:#222;stroke-width:0.75"/>
<line class="t" x1="320.8" y1="416.8" x2="323.9" y2="413.5" style="stroke:#222;stroke-width:0.75"/>
<line class="t" x1="321.9" y1="417.4" x2="325.0" y2="414.1" style="stroke:#222;stroke-width:0.75"/>
<line class="t" x1="323.0" y1="418.0" x2="326.1" y2="414.7" style="stroke:#222;stroke-width:0.75"/>
<line class="t" x1="324.1" y1="418.6" x2="327.2" y2="415.2" style="stroke:#222;stroke-width:0.75"/>
<path class="p" d="M308.5,412.0 L311.7,413.7 L315.1,407.3 L311.9,405.6 Z" />
<ellipse class="p" cx="310.2" cy="408.8" rx="1.8" ry="3.6" transform="rotate(27.699472808054935 310.2 408.8)" />
<line class="t" x1="309.4" y1="410.2" x2="312.6" y2="411.9" />
<line class="t" x1="311.0" y1="407.4" x2="314.1" y2="409.0" />
<ellipse class="p" cx="332.5" cy="420.1" rx="3.0" ry="4.3" transform="rotate(30 332.5 420.1)" style="stroke-width:1.10"/>
<ellipse class="p" cx="331.6" cy="419.6" rx="3.0" ry="4.3" transform="rotate(30 331.6 419.6)" style="stroke-width:1.20"/>
<ellipse class="p" cx="331.8" cy="419.7" rx="1.4" ry="2.1" transform="rotate(30 331.8 419.7)" style="stroke-width:1.00"/>
<path class="p" d="M270.7,279.4 Q270.6,278.6 271.6,278.2 L301.4,260.9 Q302.2,260.5 303,261 L305,262.6 Q305.5,263 305.5,264 L305.3,412 Q306,417 310,420.6 L314.5,425.2 L317.4,428.4 L347.4,419.8 Q351.6,419.4 353,423.6 Q354.2,428 350.6,431.6 L349.6,434.6 L311,453.4 Q307,455 303.4,453.9 L275.8,437.8 Q271,435 270.8,430.6 Z" />
<path class="t" d="M273.8,281.2 L273.8,431.5 Q274,434.8 277,436.6" />
<path class="l" d="M270.9,279 L273.8,281.2 L305.3,263.2" />
<path class="t" d="M317.4,428.4 L319.4,430 L348.6,421.6 Q351,421.6 352,424" />
<path class="t" d="M305.3,412 Q304.6,416 306.6,419.6 L311.6,424.6" />
<ellipse class="p" cx="346.6" cy="428.9" rx="2.3" ry="3.6" transform="rotate(30 346.6 428.9)" />
<path class="t" d="M345.6,426.4 Q344.4,429 346,431.8" />
<path class="l" d="M284.6,358.4 L284.6,287.6 Q285.0,284.0 292.0,281.20000000000005 L293.79999999999995,281.0 L294.2,284.6 M284.6,358.4 L287.6,359.4 L291.79999999999995,355.0 M293.8,283.6 L285.8,290.5 M287.2,283.0 Q297.8,286.3 290.0,290.8 M293.8,289.6 L285.8,296.5 M287.2,289.0 Q297.8,292.3 290.0,296.8 M293.8,295.6 L285.8,302.4 M287.2,295.0 Q297.8,298.3 290.0,302.7 M293.8,301.6 L285.8,308.4 M287.2,301.0 Q297.8,304.2 290.0,308.7 M293.8,307.5 L285.8,314.4 M287.2,306.9 Q297.8,310.2 290.0,314.7 M293.8,313.5 L285.8,320.4 M287.2,312.9 Q297.8,316.2 290.0,320.7 M293.8,319.5 L285.8,326.4 M287.2,318.9 Q297.8,322.2 290.0,326.7 M293.8,325.5 L285.8,332.4 M287.2,324.9 Q297.8,328.2 290.0,332.7 M293.8,331.5 L285.8,338.3 M287.2,330.9 Q297.8,334.2 290.0,338.6 M293.8,337.4 L285.8,344.3 M287.2,336.9 Q297.8,340.1 290.0,344.6 M293.8,343.4 L285.8,350.3 M287.2,342.8 Q297.8,346.1 290.0,350.6 M293.8,349.4 L285.8,356.3 M287.2,348.8 Q297.8,352.1 290.0,356.6 " style="stroke-width:0.7"/>
<path class="t" d="M285.90000000000003,288.6 L285.90000000000003,358.4" />
</g>
<path class="p" d="M352.6,436.4 L356.8,438.8 A2.0,3.7 29.7 0 0 360.4,432.4 L356.2,430.0 A2.0,3.7 29.7 0 0 352.6,436.4 Z"/>
<ellipse class="p" cx="358.6" cy="435.6" rx="2.0" ry="3.7" transform="rotate(29.74488129694231 358.6 435.6)" />
<ellipse class="l" cx="358.6" cy="435.6" rx="1.5" ry="2.5" transform="rotate(30 358.6 435.6)" />
<ellipse class="p" cx="366.9" cy="439.4" rx="3.3" ry="4.7" transform="rotate(30 366.9 439.4)" style="stroke-width:1.10"/>
<ellipse class="p" cx="366.0" cy="438.9" rx="3.3" ry="4.7" transform="rotate(30 366.0 438.9)" style="stroke-width:1.20"/>
<ellipse class="p" cx="366.2" cy="439.0" rx="1.6" ry="2.3" transform="rotate(30 366.2 439.0)" style="stroke-width:1.00"/>
<ellipse class="p" cx="376.3" cy="445.4" rx="2.9" ry="4.3" transform="rotate(30 376.3 445.4)" style="stroke-width:1.20"/>
<ellipse class="p" cx="373.9" cy="444.0" rx="2.9" ry="4.3" transform="rotate(30 373.9 444.0)" style="stroke-width:1.20"/>
<ellipse class="t" cx="375.7" cy="445.0" rx="2.5" ry="3.7" transform="rotate(30 375.7 445.0)" />
<ellipse class="p" cx="376.7" cy="445.6" rx="1.5" ry="2.2" transform="rotate(30 376.7 445.6)" style="stroke-width:1.25"/>
</g>
<g id="p19r">
<g transform="translate(485,279)">
<path class="p" d="M312.4,412.4 L325.2,419.1 L327.2,415.3 L314.4,408.5 Z" />
<path class="p" d="M318.0,415.4 L325.2,419.1 L327.2,415.3 L320.0,411.5 Z" style="fill:#9a9a9a"/>
<line class="t" x1="317.4" y1="415.1" x2="320.6" y2="411.8" style="stroke:#222;stroke-width:0.75"/>
<line class="t" x1="318.6" y1="415.7" x2="321.7" y2="412.3" style="stroke:#222;stroke-width:0.75"/>
<line class="t" x1="319.7" y1="416.3" x2="322.8" y2="412.9" style="stroke:#222;stroke-width:0.75"/>
<line class="t" x1="320.8" y1="416.8" x2="323.9" y2="413.5" style="stroke:#222;stroke-width:0.75"/>
<line class="t" x1="321.9" y1="417.4" x2="325.0" y2="414.1" style="stroke:#222;stroke-width:0.75"/>
<line class="t" x1="323.0" y1="418.0" x2="326.1" y2="414.7" style="stroke:#222;stroke-width:0.75"/>
<line class="t" x1="324.1" y1="418.6" x2="327.2" y2="415.2" style="stroke:#222;stroke-width:0.75"/>
<path class="p" d="M308.5,412.0 L311.7,413.7 L315.1,407.3 L311.9,405.6 Z" />
<ellipse class="p" cx="310.2" cy="408.8" rx="1.8" ry="3.6" transform="rotate(27.699472808054935 310.2 408.8)" />
<line class="t" x1="309.4" y1="410.2" x2="312.6" y2="411.9" />
<line class="t" x1="311.0" y1="407.4" x2="314.1" y2="409.0" />
<ellipse class="p" cx="332.5" cy="420.1" rx="3.0" ry="4.3" transform="rotate(30 332.5 420.1)" style="stroke-width:1.10"/>
<ellipse class="p" cx="331.6" cy="419.6" rx="3.0" ry="4.3" transform="rotate(30 331.6 419.6)" style="stroke-width:1.20"/>
<ellipse class="p" cx="331.8" cy="419.7" rx="1.4" ry="2.1" transform="rotate(30 331.8 419.7)" style="stroke-width:1.00"/>
<path class="p" d="M270.7,279.4 Q270.6,278.6 271.6,278.2 L301.4,260.9 Q302.2,260.5 303,261 L305,262.6 Q305.5,263 305.5,264 L305.3,412 Q306,417 310,420.6 L314.5,425.2 L317.4,428.4 L347.4,419.8 Q351.6,419.4 353,423.6 Q354.2,428 350.6,431.6 L349.6,434.6 L311,453.4 Q307,455 303.4,453.9 L275.8,437.8 Q271,435 270.8,430.6 Z" />
<path class="t" d="M273.8,281.2 L273.8,431.5 Q274,434.8 277,436.6" />
<path class="l" d="M270.9,279 L273.8,281.2 L305.3,263.2" />
<path class="t" d="M317.4,428.4 L319.4,430 L348.6,421.6 Q351,421.6 352,424" />
<path class="t" d="M305.3,412 Q304.6,416 306.6,419.6 L311.6,424.6" />
<ellipse class="p" cx="346.6" cy="428.9" rx="2.3" ry="3.6" transform="rotate(30 346.6 428.9)" />
<path class="t" d="M345.6,426.4 Q344.4,429 346,431.8" />
<path class="l" d="M284.6,358.4 L284.6,287.6 Q285.0,284.0 292.0,281.20000000000005 L293.79999999999995,281.0 L294.2,284.6 M284.6,358.4 L287.6,359.4 L291.79999999999995,355.0 M293.8,283.6 L285.8,290.5 M287.2,283.0 Q297.8,286.3 290.0,290.8 M293.8,289.6 L285.8,296.5 M287.2,289.0 Q297.8,292.3 290.0,296.8 M293.8,295.6 L285.8,302.4 M287.2,295.0 Q297.8,298.3 290.0,302.7 M293.8,301.6 L285.8,308.4 M287.2,301.0 Q297.8,304.2 290.0,308.7 M293.8,307.5 L285.8,314.4 M287.2,306.9 Q297.8,310.2 290.0,314.7 M293.8,313.5 L285.8,320.4 M287.2,312.9 Q297.8,316.2 290.0,320.7 M293.8,319.5 L285.8,326.4 M287.2,318.9 Q297.8,322.2 290.0,326.7 M293.8,325.5 L285.8,332.4 M287.2,324.9 Q297.8,328.2 290.0,332.7 M293.8,331.5 L285.8,338.3 M287.2,330.9 Q297.8,334.2 290.0,338.6 M293.8,337.4 L285.8,344.3 M287.2,336.9 Q297.8,340.1 290.0,344.6 M293.8,343.4 L285.8,350.3 M287.2,342.8 Q297.8,346.1 290.0,350.6 M293.8,349.4 L285.8,356.3 M287.2,348.8 Q297.8,352.1 290.0,356.6 " style="stroke-width:0.7"/>
<path class="t" d="M285.90000000000003,288.6 L285.90000000000003,358.4" />
</g>
<path class="p" d="M837.6,715.4 L841.8,717.8 A2.0,3.7 29.7 0 0 845.4,711.4 L841.2,709.0 A2.0,3.7 29.7 0 0 837.6,715.4 Z"/>
<ellipse class="p" cx="843.6" cy="714.6" rx="2.0" ry="3.7" transform="rotate(29.744881296941728 843.6 714.6)" />
<ellipse class="l" cx="843.6" cy="714.6" rx="1.5" ry="2.5" transform="rotate(30 843.6 714.6)" />
<ellipse class="p" cx="851.9" cy="718.4" rx="3.3" ry="4.7" transform="rotate(30 851.9 718.4)" style="stroke-width:1.10"/>
<ellipse class="p" cx="851.0" cy="717.9" rx="3.3" ry="4.7" transform="rotate(30 851.0 717.9)" style="stroke-width:1.20"/>
<ellipse class="p" cx="851.2" cy="718.0" rx="1.6" ry="2.3" transform="rotate(30 851.2 718.0)" style="stroke-width:1.00"/>
<ellipse class="p" cx="861.3" cy="724.4" rx="2.9" ry="4.3" transform="rotate(30 861.3 724.4)" style="stroke-width:1.20"/>
<ellipse class="p" cx="858.9" cy="723.0" rx="2.9" ry="4.3" transform="rotate(30 858.9 723.0)" style="stroke-width:1.20"/>
<ellipse class="t" cx="860.7" cy="724.0" rx="2.5" ry="3.7" transform="rotate(30 860.7 724.0)" />
<ellipse class="p" cx="861.7" cy="724.6" rx="1.5" ry="2.2" transform="rotate(30 861.7 724.6)" style="stroke-width:1.25"/>
</g>
<g id="p20r">
<path class="p" d="M749.6,486.4 L745.9,484.4 Q742.6,484.6 741.7,487.6 Q741.3,490.4 742.8,492.2 L749.6,496 Z" />
<path class="p" d="M742.4,427.8 Q741.6,426 744,424.6 L789.6,396.8 Q792,395.6 794,397 L800,402.4 Q802.1,404.6 802.1,408 L802.1,477.6 L753.2,506.4 L749.4,503.6 L749.4,445 Q749.2,438.6 746.2,434.6 Z" />
<line class="l" x1="752.6" y1="441.0" x2="752.6" y2="505.8" />
<path class="l" d="M752.6,441 Q752.4,436.4 749.6,432.4 L746.6,428.2" />
<path class="l" d="M752.6,440.2 L801.6,411.8" />
<path class="t" d="M744.4,425.6 L749.6,432.4 M749.6,432.4 L797.6,404.4 M745.4,430.6 L795.6,400.6" />
<line class="t" x1="801.2" y1="410.0" x2="801.2" y2="478.0" />
<path class="p" d="M755,423.4 L760.8,436.6 L770.2,431.4 L770.2,418.8 L782.6,412 L783.8,422.6 L792.6,417.6 L788.8,407.6 L785.6,405.6 L776.4,410.6 Q774,409 772,411 L762,416.6 Z" />
<path class="t" d="M757.6,424 L762.6,433.6 L768.2,430.4 L768.2,419.6 M762,416.6 L768.2,419.6 M772,411 L770.2,418.8 M785.6,405.6 L788.6,414.6 L784,417.4" />
<path class="l" d="M776.4,410.6 L781,408.6 Q784.6,410 786.6,414.6" style="stroke-width:1.6"/>
<path class="p" d="M771.4,438.3 L782.6,431.4 L782.6,442 L772,448.9 Z" />
<path class="t" d="M773.2,439.6 L780.8,435 L780.8,441.4 L773.4,446.2 Z M771.4,438.3 L780.8,441.4" />
<ellipse class="p" cx="758.6" cy="496.1" rx="1.6" ry="2.2" transform="rotate(30 758.6 496.1)" />
<ellipse class="p" cx="796.2" cy="474.1" rx="1.6" ry="2.2" transform="rotate(30 796.2 474.1)" />
</g>
<g id="bar17">
<path class="p" d="M862.4,491.6 L870.4,485.6 Q871.2,485.2 872.2,485.8 L922.6,515.6 Q927,518.6 927.6,522.4 Q927.6,526 924.4,527.4 Q921.6,528 919,526.6 L895.6,513 L893.6,511.6 L863.2,494.8 Q861.6,493.4 862.4,491.6 Z" />
<path class="t" d="M863,493 L870.6,487.6" />
<path class="l" d="M879.4,493 Q877.6,494.6 879.6,496.2 L921,520 Q924,521.6 923.4,524.4" />
<path class="l" d="M882,492 L924.6,517" style="stroke-width:1.5"/>
<path class="l" d="M888.6,503 L897.4,507.6 L895.6,513 M897.4,507.6 L921.4,521.2" />
<path class="l" d="M889.6,501.4 L898.6,506.4" style="stroke-width:1.6"/>
<ellipse class="p" cx="873.5" cy="492.0" rx="1.5" ry="1.1" transform="rotate(0 873.5 492.0)" />
</g>
<g id="wn_r">
<ellipse class="p" cx="871.0" cy="517.9" rx="3.2" ry="4.6" transform="rotate(30 871.0 517.9)" style="stroke-width:1.10"/>
<ellipse class="p" cx="870.1" cy="517.4" rx="3.2" ry="4.6" transform="rotate(30 870.1 517.4)" style="stroke-width:1.20"/>
<ellipse class="p" cx="870.3" cy="517.5" rx="1.5" ry="2.2" transform="rotate(30 870.3 517.5)" style="stroke-width:1.00"/>
<ellipse class="p" cx="882.5" cy="524.2" rx="3.0" ry="4.4" transform="rotate(30 882.5 524.2)" style="stroke-width:1.20"/>
<ellipse class="p" cx="880.1" cy="522.8" rx="3.0" ry="4.4" transform="rotate(30 880.1 522.8)" style="stroke-width:1.20"/>
<ellipse class="t" cx="881.9" cy="523.8" rx="2.6" ry="3.8" transform="rotate(30 881.9 523.8)" />
<ellipse class="p" cx="882.9" cy="524.4" rx="1.6" ry="2.3" transform="rotate(30 882.9 524.4)" style="stroke-width:1.25"/>
<ellipse class="p" cx="833.5" cy="539.1" rx="3.2" ry="4.6" transform="rotate(30 833.5 539.1)" style="stroke-width:1.10"/>
<ellipse class="p" cx="832.6" cy="538.6" rx="3.2" ry="4.6" transform="rotate(30 832.6 538.6)" style="stroke-width:1.20"/>
<ellipse class="p" cx="832.8" cy="538.7" rx="1.5" ry="2.2" transform="rotate(30 832.8 538.7)" style="stroke-width:1.00"/>
<ellipse class="p" cx="844.9" cy="546.3" rx="3.0" ry="4.4" transform="rotate(30 844.9 546.3)" style="stroke-width:1.20"/>
<ellipse class="p" cx="842.5" cy="544.9" rx="3.0" ry="4.4" transform="rotate(30 842.5 544.9)" style="stroke-width:1.20"/>
<ellipse class="t" cx="844.3" cy="545.9" rx="2.6" ry="3.8" transform="rotate(30 844.3 545.9)" />
<ellipse class="p" cx="845.3" cy="546.5" rx="1.6" ry="2.3" transform="rotate(30 845.3 546.5)" style="stroke-width:1.25"/>
</g>
<g id="axes_top">
<line class="c" x1="291.2" y1="125.0" x2="291.2" y2="224.0" stroke-dashoffset="33.0"/>
<line class="c" x1="291.2" y1="258.0" x2="291.2" y2="268.8" stroke-dashoffset="166.0"/>
<line class="c" x1="773.4" y1="396.0" x2="773.4" y2="414.5" stroke-dashoffset="30.5"/>
<line class="c" x1="294.0" y1="161.9" x2="316.0" y2="174.6" stroke-dashoffset="50.8"/>
<line class="c" x1="783.5" y1="444.3" x2="803.0" y2="455.6" stroke-dashoffset="615.9"/>
<line class="c" x1="797.5" y1="475.0" x2="803.0" y2="478.1" stroke-dashoffset="669.6"/>
<line class="c" x1="760.0" y1="496.9" x2="775.0" y2="505.6" stroke-dashoffset="670.2"/>
</g>
<g id="marks">
<line class="l" x1="464.3" y1="382.0" x2="467.8" y2="382.0" style="stroke-width:1.2;stroke:#111"/>
<ellipse class="d" cx="461.6" cy="385.4" rx="0.9" ry="0.9" transform="rotate(0 461.6 385.4)" style="fill:#222;stroke:none"/>
<ellipse class="d" cx="474.4" cy="385.0" rx="0.9" ry="0.9" transform="rotate(0 474.4 385.0)" style="fill:#222;stroke:none"/>
<ellipse class="d" cx="477.8" cy="385.0" rx="0.9" ry="0.9" transform="rotate(0 477.8 385.0)" style="fill:#222;stroke:none"/>
<ellipse class="d" cx="481.0" cy="385.0" rx="0.9" ry="0.9" transform="rotate(0 481.0 385.0)" style="fill:#222;stroke:none"/>
</g>
<g id="logo">
<path class="wl" d="M309.2,325.6 C308.7,324.2 306.0,320.3 306.2,317.4 C306.4,314.5 308.5,311.3 310.3,308.2 C312.1,305.1 314.4,301.8 317.0,299.0 C319.6,296.2 321.4,294.2 325.6,291.6 C329.8,289.0 336.7,285.4 342.2,283.3 C347.7,281.2 353.5,279.6 358.8,278.8 C364.1,278.0 369.3,278.1 374.1,278.6 C378.9,279.1 385.5,281.3 387.8,281.8"/>
<path class="wl" d="M386.8,284.0 C384.7,283.4 378.8,281.2 374.1,280.7 C369.4,280.1 364.1,279.9 358.8,280.7 C353.5,281.5 347.6,283.2 342.2,285.6 C336.8,288.1 329.2,293.8 326.6,295.4"/>
<path class="wl" d="M325.6,292.4 C325.5,293.8 326.1,297.7 325.2,300.5 C324.3,303.3 322.2,306.3 320.5,309.4 C318.8,312.5 316.5,316.2 315.0,319.0 C313.5,321.8 312.0,324.8 311.4,326.0"/>
<path class="wl" d="M390.0,282.6 L400.9,287.8 L398.3,298.6 L410.4,309.4 L380.5,309.4 Z"/>
<path class="wl" d="M383.0,292.9 C381.1,292.6 376.0,291.3 371.5,290.9 C367.0,290.5 361.7,290.3 356.2,290.6 C350.7,290.9 342.8,291.9 338.4,292.9 C334.0,293.9 331.8,295.4 330.1,296.7 C328.4,297.9 328.6,299.2 328.4,300.4 C328.2,301.6 328.3,302.9 329.0,304.0 C329.7,305.1 331.0,306.5 332.6,306.9 C334.2,307.3 336.6,306.9 338.4,306.2 C340.2,305.4 341.4,304.2 343.5,302.4 C345.6,300.6 349.0,297.1 351.1,295.4 C353.2,293.7 352.8,292.8 356.2,292.4 C359.6,292.0 367.1,292.5 371.5,292.9 C375.9,293.3 380.9,294.5 382.8,294.8"/>
<path class="wl" d="M310.6,325.6 C311.0,324.6 311.1,321.5 313.0,319.4 C314.9,317.2 318.3,314.3 321.7,312.7 C325.1,311.1 329.2,310.8 333.3,309.6 C337.4,308.4 341.3,306.7 346.0,305.6 C350.7,304.6 357.1,303.6 361.3,303.3 C365.6,303.1 368.5,303.7 371.5,304.1 C374.5,304.5 377.9,305.4 379.2,305.6"/>
<path class="wl" d="M378.5,307.5 C377.3,307.2 374.4,306.4 371.5,306.0 C368.6,305.6 364.7,305.2 361.3,305.4 C357.9,305.6 355.0,306.2 351.4,307.4 C347.8,308.6 343.4,310.2 339.9,312.7 C336.4,315.2 332.8,319.8 330.3,322.3 C327.8,324.8 326.9,326.6 325.0,327.6 C323.1,328.6 320.9,328.2 318.8,328.2 C316.7,328.2 313.6,327.7 312.6,327.6"/>
<path class="wl" d="M302.0,317.0 C301.3,318.3 298.6,322.2 297.6,325.0 C296.6,327.8 296.0,331.0 295.8,334.0 C295.6,337.0 295.6,340.2 296.2,343.0 C296.8,345.8 298.2,348.9 299.6,351.0 C301.0,353.1 303.6,355.1 304.4,355.9"/>
<path class="wl" d="M302.0,317.0 C302.4,318.2 304.0,321.3 304.6,324.0 C305.2,326.7 305.3,331.5 305.4,333.0"/>
<path class="wl" d="M325.0,328.5 C323.2,329.4 316.8,331.3 314.0,333.8 C311.2,336.3 309.4,339.6 308.2,343.4 C307.0,347.1 307.0,354.1 306.8,356.3"/>
<path class="wl" d="M306.8,356.3 C308.2,355.8 312.8,354.5 315.0,353.0 C317.2,351.5 318.5,349.9 319.8,347.2 C321.1,344.5 321.7,339.8 322.6,336.7 C323.5,333.6 324.6,329.9 325.0,328.5"/>
<path class="wl" d="M319.3,350.6 C318.4,352.0 314.9,355.8 313.6,358.7 C312.3,361.6 311.7,364.8 311.4,368.0 C311.1,371.2 311.2,374.7 311.8,378.0 C312.4,381.3 314.5,386.3 315.0,388.0"/>
<path class="wl" d="M319.3,350.6 C319.7,352.6 320.8,358.9 321.7,362.6 C322.6,366.3 323.5,369.4 324.8,373.0 C326.1,376.6 327.9,380.7 329.6,384.0 C331.3,387.3 333.2,390.3 335.0,393.0 C336.8,395.7 339.7,398.8 340.6,400.0"/>
<path class="wl" d="M293.8,354.0 C293.9,355.7 293.9,360.3 294.6,364.0 C295.3,367.7 296.5,372.0 298.0,376.0 C299.5,380.0 301.4,384.3 303.6,388.0 C305.8,391.7 308.3,395.0 311.0,398.0 C313.7,401.0 318.5,404.7 320.0,406.0"/>
<path class="wl" d="M293.8,354.0 C294.7,354.8 297.1,357.1 299.0,358.6 C300.9,360.1 304.3,362.3 305.4,363.0"/>
<path class="wl" d="M305.4,374.0 C306.5,375.7 309.4,380.9 312.0,384.0 C314.6,387.1 317.7,390.0 321.0,392.6 C324.3,395.2 328.8,397.9 332.0,399.6 C335.2,401.3 339.0,402.4 340.4,403.0"/>
<path class="wl" d="M324.0,372.0 C324.2,374.0 324.4,380.2 325.4,384.0 C326.4,387.8 327.9,391.6 330.0,395.0 C332.1,398.4 336.7,403.0 338.0,404.6"/>
<path class="wl" d="M342.8,377.0 C342.4,378.8 340.8,384.5 340.6,388.0 C340.4,391.5 340.9,395.2 341.6,398.0 C342.3,400.8 344.4,403.8 345.0,405.0"/>
<path class="wl" d="M349.3,393.1 C350.6,393.4 354.5,394.6 357.0,395.0 C359.5,395.4 361.7,395.5 364.5,395.2 C367.3,394.9 370.8,394.3 374.0,393.4 C377.2,392.5 380.8,390.5 383.8,389.7 C386.8,388.9 389.2,388.9 392.0,388.8 C394.8,388.7 399.0,389.0 400.4,389.0"/>
<path class="wl" d="M349.3,393.1 L340.4,417.3"/>
<path class="wl" d="M352.8,420.7 L357.6,411.1 L378.3,410.4 L384.5,419.3 L406.6,409.7 L404.5,404.9"/>
<path class="wl" d="M400.4,389.0 L401.3,378.4 L431.9,378.4 L428.8,382.9 L415.4,383.5 L405.2,394.4"/>
</g>
<g id="wm">
<mask id="wm1" maskUnits="userSpaceOnUse" x="-80" y="-120" width="560" height="220"><rect x="-80" y="-120" width="560" height="220" fill="#fff"/><text class="wk"><tspan x="0.00" y="0.00" font-size="36" font-weight="bold" textLength="101" lengthAdjust="spacingAndGlyphs" style="stroke-width:0.00">группа</tspan> <tspan x="112.60" y="0.00" font-size="36" font-weight="bold" textLength="150" lengthAdjust="spacingAndGlyphs" style="stroke-width:0.00">компаний</tspan></text></mask><g transform="translate(422.8,304.0) skewX(-14)"><g mask="url(#wm1)"><text class="w"><tspan x="0.00" y="0.00" font-size="36" font-weight="bold" textLength="101" lengthAdjust="spacingAndGlyphs" style="stroke-width:2.20">группа</tspan> <tspan x="112.60" y="0.00" font-size="36" font-weight="bold" textLength="150" lengthAdjust="spacingAndGlyphs" style="stroke-width:2.20">компаний</tspan></text></g></g>
<mask id="wm2" maskUnits="userSpaceOnUse" x="-80" y="-120" width="560" height="220"><rect x="-80" y="-120" width="560" height="220" fill="#fff"/><text class="wk"><tspan x="-3.50" y="0.00" font-size="96" font-weight="normal" textLength="31.6" lengthAdjust="spacingAndGlyphs" style="stroke-width:5.60">А</tspan><tspan x="41.47" y="-12.25" font-size="80.1" font-weight="normal" textLength="24.7" lengthAdjust="spacingAndGlyphs" style="stroke-width:3.30">Г</tspan><tspan x="74.75" y="-12.25" font-size="80.1" font-weight="normal" textLength="30.59" lengthAdjust="spacingAndGlyphs" style="stroke-width:3.30">Р</tspan><tspan x="113.42" y="-12.25" font-size="80.1" font-weight="normal" textLength="35.59" lengthAdjust="spacingAndGlyphs" style="stroke-width:3.30">О</tspan><tspan x="154.80" y="-12.25" font-size="80.1" font-weight="normal" textLength="36.61" lengthAdjust="spacingAndGlyphs" style="stroke-width:3.30">С</tspan><tspan x="196.79" y="-12.25" font-size="80.1" font-weight="normal" textLength="35.36" lengthAdjust="spacingAndGlyphs" style="stroke-width:3.30">Н</tspan><tspan x="245.31" y="-12.25" font-size="80.1" font-weight="normal" textLength="34.07" lengthAdjust="spacingAndGlyphs" style="stroke-width:3.30">А</tspan><tspan x="279.60" y="-12.25" font-size="80.1" font-weight="normal" textLength="29.67" lengthAdjust="spacingAndGlyphs" style="stroke-width:3.30">Б</tspan></text><text class="wk"><tspan x="-1.75" y="0.00" font-size="96" font-weight="normal" textLength="31.6" lengthAdjust="spacingAndGlyphs" style="stroke-width:5.60">А</tspan><tspan x="42.97" y="-12.25" font-size="80.1" font-weight="normal" textLength="24.7" lengthAdjust="spacingAndGlyphs" style="stroke-width:3.30">Г</tspan><tspan x="76.25" y="-12.25" font-size="80.1" font-weight="normal" textLength="30.59" lengthAdjust="spacingAndGlyphs" style="stroke-width:3.30">Р</tspan><tspan x="114.92" y="-12.25" font-size="80.1" font-weight="normal" textLength="35.59" lengthAdjust="spacingAndGlyphs" style="stroke-width:3.30">О</tspan><tspan x="156.30" y="-12.25" font-size="80.1" font-weight="normal" textLength="36.61" lengthAdjust="spacingAndGlyphs" style="stroke-width:3.30">С</tspan><tspan x="198.29" y="-12.25" font-size="80.1" font-weight="normal" textLength="35.36" lengthAdjust="spacingAndGlyphs" style="stroke-width:3.30">Н</tspan><tspan x="246.81" y="-12.25" font-size="80.1" font-weight="normal" textLength="34.07" lengthAdjust="spacingAndGlyphs" style="stroke-width:3.30">А</tspan><tspan x="281.10" y="-12.25" font-size="80.1" font-weight="normal" textLength="29.67" lengthAdjust="spacingAndGlyphs" style="stroke-width:3.30">Б</tspan></text><text class="wk"><tspan x="0.00" y="0.00" font-size="96" font-weight="normal" textLength="31.6" lengthAdjust="spacingAndGlyphs" style="stroke-width:5.60">А</tspan><tspan x="44.47" y="-12.25" font-size="80.1" font-weight="normal" textLength="24.7" lengthAdjust="spacingAndGlyphs" style="stroke-width:3.30">Г</tspan><tspan x="77.75" y="-12.25" font-size="80.1" font-weight="normal" textLength="30.59" lengthAdjust="spacingAndGlyphs" style="stroke-width:3.30">Р</tspan><tspan x="116.42" y="-12.25" font-size="80.1" font-weight="normal" textLength="35.59" lengthAdjust="spacingAndGlyphs" style="stroke-width:3.30">О</tspan><tspan x="157.80" y="-12.25" font-size="80.1" font-weight="normal" textLength="36.61" lengthAdjust="spacingAndGlyphs" style="stroke-width:3.30">С</tspan><tspan x="199.79" y="-12.25" font-size="80.1" font-weight="normal" textLength="35.36" lengthAdjust="spacingAndGlyphs" style="stroke-width:3.30">Н</tspan><tspan x="248.31" y="-12.25" font-size="80.1" font-weight="normal" textLength="34.07" lengthAdjust="spacingAndGlyphs" style="stroke-width:3.30">А</tspan><tspan x="282.60" y="-12.25" font-size="80.1" font-weight="normal" textLength="29.67" lengthAdjust="spacingAndGlyphs" style="stroke-width:3.30">Б</tspan></text><text class="wk"><tspan x="1.75" y="0.00" font-size="96" font-weight="normal" textLength="31.6" lengthAdjust="spacingAndGlyphs" style="stroke-width:5.60">А</tspan><tspan x="45.97" y="-12.25" font-size="80.1" font-weight="normal" textLength="24.7" lengthAdjust="spacingAndGlyphs" style="stroke-width:3.30">Г</tspan><tspan x="79.25" y="-12.25" font-size="80.1" font-weight="normal" textLength="30.59" lengthAdjust="spacingAndGlyphs" style="stroke-width:3.30">Р</tspan><tspan x="117.92" y="-12.25" font-size="80.1" font-weight="normal" textLength="35.59" lengthAdjust="spacingAndGlyphs" style="stroke-width:3.30">О</tspan><tspan x="159.30" y="-12.25" font-size="80.1" font-weight="normal" textLength="36.61" lengthAdjust="spacingAndGlyphs" style="stroke-width:3.30">С</tspan><tspan x="201.29" y="-12.25" font-size="80.1" font-weight="normal" textLength="35.36" lengthAdjust="spacingAndGlyphs" style="stroke-width:3.30">Н</tspan><tspan x="249.81" y="-12.25" font-size="80.1" font-weight="normal" textLength="34.07" lengthAdjust="spacingAndGlyphs" style="stroke-width:3.30">А</tspan><tspan x="284.10" y="-12.25" font-size="80.1" font-weight="normal" textLength="29.67" lengthAdjust="spacingAndGlyphs" style="stroke-width:3.30">Б</tspan></text><text class="wk"><tspan x="3.50" y="0.00" font-size="96" font-weight="normal" textLength="31.6" lengthAdjust="spacingAndGlyphs" style="stroke-width:5.60">А</tspan><tspan x="47.47" y="-12.25" font-size="80.1" font-weight="normal" textLength="24.7" lengthAdjust="spacingAndGlyphs" style="stroke-width:3.30">Г</tspan><tspan x="80.75" y="-12.25" font-size="80.1" font-weight="normal" textLength="30.59" lengthAdjust="spacingAndGlyphs" style="stroke-width:3.30">Р</tspan><tspan x="119.42" y="-12.25" font-size="80.1" font-weight="normal" textLength="35.59" lengthAdjust="spacingAndGlyphs" style="stroke-width:3.30">О</tspan><tspan x="160.80" y="-12.25" font-size="80.1" font-weight="normal" textLength="36.61" lengthAdjust="spacingAndGlyphs" style="stroke-width:3.30">С</tspan><tspan x="202.79" y="-12.25" font-size="80.1" font-weight="normal" textLength="35.36" lengthAdjust="spacingAndGlyphs" style="stroke-width:3.30">Н</tspan><tspan x="251.31" y="-12.25" font-size="80.1" font-weight="normal" textLength="34.07" lengthAdjust="spacingAndGlyphs" style="stroke-width:3.30">А</tspan><tspan x="285.60" y="-12.25" font-size="80.1" font-weight="normal" textLength="29.67" lengthAdjust="spacingAndGlyphs" style="stroke-width:3.30">Б</tspan></text></mask><g transform="translate(359.1,383.3) skewX(-11)"><g mask="url(#wm2)"><text class="w"><tspan x="-3.50" y="0.00" font-size="96" font-weight="normal" textLength="31.6" lengthAdjust="spacingAndGlyphs" style="stroke-width:8.00">А</tspan><tspan x="41.47" y="-12.25" font-size="80.1" font-weight="normal" textLength="24.7" lengthAdjust="spacingAndGlyphs" style="stroke-width:5.70">Г</tspan><tspan x="74.75" y="-12.25" font-size="80.1" font-weight="normal" textLength="30.59" lengthAdjust="spacingAndGlyphs" style="stroke-width:5.70">Р</tspan><tspan x="113.42" y="-12.25" font-size="80.1" font-weight="normal" textLength="35.59" lengthAdjust="spacingAndGlyphs" style="stroke-width:5.70">О</tspan><tspan x="154.80" y="-12.25" font-size="80.1" font-weight="normal" textLength="36.61" lengthAdjust="spacingAndGlyphs" style="stroke-width:5.70">С</tspan><tspan x="196.79" y="-12.25" font-size="80.1" font-weight="normal" textLength="35.36" lengthAdjust="spacingAndGlyphs" style="stroke-width:5.70">Н</tspan><tspan x="245.31" y="-12.25" font-size="80.1" font-weight="normal" textLength="34.07" lengthAdjust="spacingAndGlyphs" style="stroke-width:5.70">А</tspan><tspan x="279.60" y="-12.25" font-size="80.1" font-weight="normal" textLength="29.67" lengthAdjust="spacingAndGlyphs" style="stroke-width:5.70">Б</tspan></text><text class="w"><tspan x="3.50" y="0.00" font-size="96" font-weight="normal" textLength="31.6" lengthAdjust="spacingAndGlyphs" style="stroke-width:8.00">А</tspan><tspan x="47.47" y="-12.25" font-size="80.1" font-weight="normal" textLength="24.7" lengthAdjust="spacingAndGlyphs" style="stroke-width:5.70">Г</tspan><tspan x="80.75" y="-12.25" font-size="80.1" font-weight="normal" textLength="30.59" lengthAdjust="spacingAndGlyphs" style="stroke-width:5.70">Р</tspan><tspan x="119.42" y="-12.25" font-size="80.1" font-weight="normal" textLength="35.59" lengthAdjust="spacingAndGlyphs" style="stroke-width:5.70">О</tspan><tspan x="160.80" y="-12.25" font-size="80.1" font-weight="normal" textLength="36.61" lengthAdjust="spacingAndGlyphs" style="stroke-width:5.70">С</tspan><tspan x="202.79" y="-12.25" font-size="80.1" font-weight="normal" textLength="35.36" lengthAdjust="spacingAndGlyphs" style="stroke-width:5.70">Н</tspan><tspan x="251.31" y="-12.25" font-size="80.1" font-weight="normal" textLength="34.07" lengthAdjust="spacingAndGlyphs" style="stroke-width:5.70">А</tspan><tspan x="285.60" y="-12.25" font-size="80.1" font-weight="normal" textLength="29.67" lengthAdjust="spacingAndGlyphs" style="stroke-width:5.70">Б</tspan></text></g></g>
<mask id="wm3" maskUnits="userSpaceOnUse" x="-80" y="-120" width="560" height="220"><rect x="-80" y="-120" width="560" height="220" fill="#fff"/><text class="wk"><tspan x="0.00" y="0.00" font-size="46" font-weight="bold" textLength="245" lengthAdjust="spacingAndGlyphs" style="stroke-width:0.00">техсервис</tspan></text></mask><g transform="translate(430.8,401.0) skewX(-11)"><g mask="url(#wm3)"><text class="w"><tspan x="0.00" y="0.00" font-size="46" font-weight="bold" textLength="245" lengthAdjust="spacingAndGlyphs" style="stroke-width:2.30">техсервис</tspan></text></g></g>
</g>
<g id="labels">
<path class="ld" d="M51.9,70.2 L59.4,70.2 L75.7,92.0"/>
<text class="n" x="36.0" y="75.2">18</text>
<path class="ld" d="M84.0,115.2 L90.1,115.2 L105.1,98.8"/>
<text class="n" x="76.6" y="119.6">1</text>
<path class="ld" d="M146.5,116.4 L153.4,116.4 L172.6,94.5"/>
<text class="n" x="132.0" y="120.4">16</text>
<path class="ld" d="M194.5,59.4 L222.0,62.8"/>
<text class="n" x="223.2" y="67.2">8</text>
<path class="ld" d="M185.8,65.1 L200.2,78.2 L208.6,78.2"/>
<text class="n" x="209.6" y="82.2">11</text>
<path class="ld" d="M186.9,171.4 L202.0,205.2 L209.0,205.2"/>
<text class="n" x="209.8" y="209.6">3</text>
<path class="ld" d="M228.4,227.0 L236.0,227.0 L270.4,185.2"/>
<text class="n" x="214.2" y="232.0">20</text>
<path class="ld" d="M503.4,188.8 L496.2,188.8 L475.0,220.0"/>
<text class="n" x="504.4" y="193.6">2</text>
<path class="ld" d="M499.6,222.6 L492.5,222.6 L477.5,246.2"/>
<text class="n" x="500.2" y="227.4">11</text>
<path class="ld" d="M446.4,290.2 L453.8,290.2 L471.0,280.0"/>
<text class="n" x="437.0" y="296.2">11</text>
<path class="ld" d="M447.6,313.8 L455.0,313.8 L471.2,284.6"/>
<text class="n" x="441.0" y="318.6">8</text>
<path class="ld" d="M482.0,323.4 L490.0,323.4 L516.0,299.4"/>
<text class="n" x="468.2" y="328.4">21</text>
<path class="ld" d="M676.0,327.0 L670.0,327.0 L660.0,355.0"/>
<text class="n" x="676.4" y="331.2">14</text>
<path class="ld" d="M722.4,323.8 L715.0,323.8 L705.0,338.8"/>
<text class="n" x="723.4" y="328.6">6</text>
<path class="ld" d="M631.6,406.2 L640.0,405.6 L656.2,396.2"/>
<text class="n" x="618.2" y="411.2">15</text>
<path class="ld" d="M649.0,421.4 L656.2,421.4 L668.0,401.2"/>
<text class="n" x="642.6" y="426.2">7</text>
<path class="ld" d="M539.4,367.6 L553.9,402.9 L561.0,403.3"/>
<text class="n" x="561.0" y="407.8">4</text>
<path class="ld" d="M625.0,470.0 L635.0,470.0 L661.5,443.6"/>
<text class="n" x="610.0" y="475.2">10</text>
<path class="ld" d="M646.8,491.2 L654.2,491.2 L674.7,454.4"/>
<text class="n" x="632.6" y="495.4">13</text>
<path class="ld" d="M824.6,408.2 L817.7,408.2 L795.2,437.0"/>
<text class="n" x="825.6" y="412.6">20</text>
<path class="ld" d="M903.6,459.4 L896.1,459.4 L886.0,492.0"/>
<text class="n" x="904.4" y="463.8">17</text>
<path class="ld" d="M811.0,568.5 L818.6,568.5 L831.6,541.0"/>
<text class="n" x="796.6" y="572.8">10</text>
<path class="ld" d="M811.4,581.2 L818.6,581.2 L840.9,548.0"/>
<text class="n" x="803.4" y="585.2">9</text>
<path class="ld" d="M730.6,645.5 L738.2,645.5 L765.5,669.5"/>
<text class="n" x="716.4" y="650.6">19</text>
<path class="ld" d="M245.1,356.2 L253.7,356.2 L280.3,380.0"/>
<text class="n" x="229.6" y="361.2">19</text>
<path class="ld" d="M340.3,362.7 L328.2,362.7 L314.1,406.3"/>
<text class="n" x="347.6" y="371.6">5</text>
<path class="ld" d="M351.1,381.5 L342.8,381.5 L333.3,415.3"/>
<text class="n" x="354.8" y="386.0">10</text>
<path class="ld" d="M390.0,400.6 L379.8,400.6 L357.5,431.2"/>
<text class="n" x="393.8" y="404.0">12</text>
<path class="ld" d="M342.0,476.6 L348.6,476.6 L363.8,443.9"/>
<text class="n" x="325.2" y="481.6">10</text>
<path class="ld" d="M345.0,496.4 L352.4,496.4 L372.0,448.0"/>
<text class="n" x="336.6" y="500.6">9</text>
</g>
</svg>
</body></html>
